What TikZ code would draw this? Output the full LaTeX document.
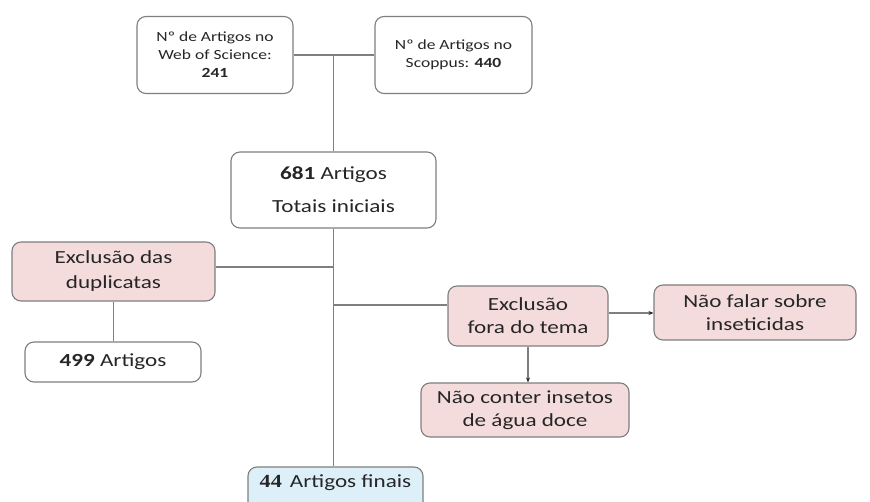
\documentclass[tikz,border=0pt]{standalone}
\usepackage{fontspec}
\setmainfont{Carlito}[FakeStretch=1.25]
\newfontfamily\numfont{Liberation Serif}[FakeStretch=1.2]
\usetikzlibrary{arrows.meta}
\definecolor{edgegray}{HTML}{7F7F7F}
\definecolor{pinkfill}{HTML}{F4DCDC}
\definecolor{bluefill}{HTML}{DDF0FA}
\definecolor{txt}{HTML}{262626}
\tikzset{
  box/.style={draw=edgegray, line width=1.1pt, rounded corners=9pt, fill=white,
    align=center, text=txt, inner sep=2pt},
  pinkbox/.style={box, fill=pinkfill},
  bluebox/.style={box, fill=bluefill},
  conn/.style={draw=edgegray, line width=1.1pt},
  arr/.style={draw=edgegray, line width=1.1pt, -{Stealth[length=5pt,width=4pt,color=txt]}}
}
\begin{document}
\begin{tikzpicture}[x=1pt,y=-1pt]
\useasboundingbox (0,0) rectangle (870,502);
\clip (0,0) rectangle (870,502);
\fill[white] (0,0) rectangle (870,502);

\node[box, minimum width=156pt, minimum height=77pt, font=\fontsize{14}{18}\selectfont] (wos) at (215,55)
  {Nº de Artigos no\\Web of Science:\\\textbf{241}};
\node[box, minimum width=157pt, minimum height=77pt, font=\fontsize{14}{18}\selectfont] (sco) at (453.5,55)
  {Nº de Artigos no\\Scoppus: \textbf{440}};
\node[box, minimum width=205pt, minimum height=76pt, font=\fontsize{18.5}{33}\selectfont] (tot) at (333.5,190)
  {\textbf{681} Artigos\\Totais iniciais};
\node[pinkbox, minimum width=203pt, minimum height=59pt, font=\fontsize{18.5}{25}\selectfont] (dup) at (113.5,271.5)
  {Exclusão das\\duplicatas};
\node[box, minimum width=176pt, minimum height=40pt, font=\fontsize{18.5}{22}\selectfont] (a499) at (113,362)
  {\textbf{499} Artigos};
\node[pinkbox, minimum width=160pt, minimum height=60pt, font=\fontsize{18.5}{23}\selectfont] (fora) at (528,316)
  {Exclusão\\fora do tema};
\node[pinkbox, minimum width=202pt, minimum height=55pt, font=\fontsize{18.5}{23}\selectfont] (falar) at (755,312.5)
  {Não falar sobre\\inseticidas};
\node[pinkbox, minimum width=208pt, minimum height=54pt, font=\fontsize{18.5}{23}\selectfont] (conter) at (525,410)
  {Não conter insetos\\de água doce};
\node[bluebox, minimum width=175pt, minimum height=46pt, font=\fontsize{18.5}{22}\selectfont, text depth=18pt, text height=12pt] (fin) at (335.5,490)
  {{\numfont\bfseries 44}\hspace{8pt}Artigos finais};

\coordinate (top) at (333.5,55);
\coordinate (jdup) at (334,267);
\coordinate (jfora) at (334,305);

\draw[conn] (wos.east |- top) -- (sco.west |- top);
\draw[conn] (top) -- (tot.north);
\draw[conn] (tot.south) -- (tot.south |- fin.north);
\draw[conn] (dup.east |- jdup) -- (jdup);
\draw[conn] (jfora) -- (fora.west |- jfora);
\draw[conn] (dup.south) -- (dup.south |- a499.north);
\draw[arr] (fora.east |- 0,313) -- (falar.west |- 0,313);
\draw[arr] (fora.south) -- (fora.south |- conter.north);
\end{tikzpicture}
\end{document}
